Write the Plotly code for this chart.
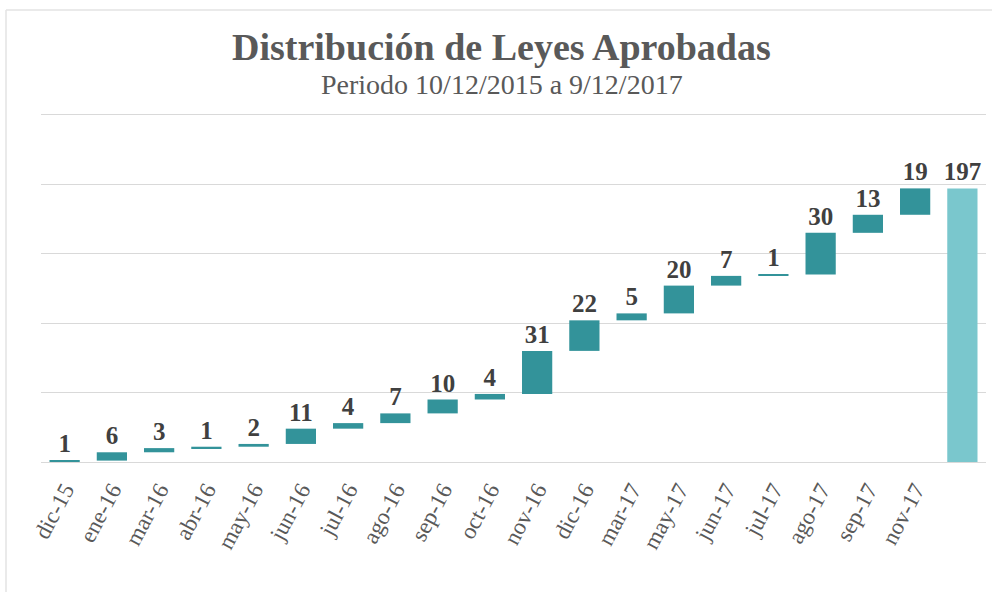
import plotly.graph_objects as go

# Monthly counts of approved laws, followed by the cumulative total
months = ["dic-15", "ene-16", "mar-16", "abr-16", "may-16", "jun-16", "jul-16",
          "ago-16", "sep-16", "oct-16", "nov-16", "dic-16", "mar-17", "may-17",
          "jun-17", "jul-17", "ago-17", "sep-17", "nov-17"]
laws = [1, 6, 3, 1, 2, 11, 4, 7, 10, 4, 31, 22, 5, 20, 7, 1, 30, 13, 19]
total_label = "Total"
total_value = 197

categories = months + [total_label]
measures = ["relative"] * len(months) + ["total"]
values = laws + [0]
labels = [str(v) for v in laws] + [str(total_value)]
tick_text = months + [""]

W, H = 992, 592
M_L, M_R, M_T, M_B = 41, 6, 112, 130
plot_w = W - M_L - M_R
plot_h = H - M_T - M_B


def px_x(p):
    return (p - M_L) / plot_w


def px_y(p):
    return (H - M_B - p) / plot_h


fig = go.Figure(go.Waterfall(
    x=categories,
    y=values,
    measure=measures,
    text=labels,
    textinfo="text",
    textposition="outside",
    constraintext="none",
    cliponaxis=False,
    textfont=dict(family="Liberation Serif", size=25, color="#404040", weight="bold"),
    increasing=dict(marker=dict(color="#33939A")),
    decreasing=dict(marker=dict(color="#33939A")),
    totals=dict(marker=dict(color="#7AC7CD")),
    connector=dict(visible=False),
    width=0.64,
    hoverinfo="x+y",
))

fig.update_layout(
    width=W, height=H,
    margin=dict(l=M_L, r=M_R, t=M_T, b=M_B),
    paper_bgcolor="white",
    plot_bgcolor="white",
    showlegend=False,
    xaxis=dict(
        type="category",
        tickmode="array",
        tickvals=categories,
        ticktext=tick_text,
        tickangle=-62,
        ticklabelstandoff=9,
        tickfont=dict(family="Liberation Serif", size=23, color="#595959"),
        showgrid=False,
        showline=False,
        ticks="",
    ),
    yaxis=dict(
        range=[0, 252],
        tickmode="array",
        tickvals=[0, 50, 100, 150, 200, 250],
        showticklabels=False,
        showgrid=True,
        gridcolor="#D9D9D9",
        gridwidth=1,
        zeroline=True,
        zerolinecolor="#D9D9D9",
        zerolinewidth=1,
    ),
    annotations=[
        dict(text="<b>Distribución de Leyes Aprobadas</b>", xref="paper", yref="paper",
             x=px_x(501), y=px_y(47), xanchor="center", yanchor="middle", showarrow=False,
             font=dict(family="Liberation Serif", size=38, color="#595959")),
        dict(text="Periodo 10/12/2015 a 9/12/2017", xref="paper", yref="paper",
             x=px_x(502), y=px_y(85), xanchor="center", yanchor="middle", showarrow=False,
             font=dict(family="Liberation Serif", size=28, color="#595959")),
    ],
    shapes=[
        dict(type="line", xref="paper", yref="paper", x0=px_x(6), x1=px_x(1000),
             y0=px_y(10), y1=px_y(10), line=dict(color="#E3E3E3", width=1.5)),
        dict(type="line", xref="paper", yref="paper", x0=px_x(6), x1=px_x(6),
             y0=px_y(10), y1=px_y(600), line=dict(color="#E3E3E3", width=1.5)),
    ],
)

fig.write_html("out.html")
